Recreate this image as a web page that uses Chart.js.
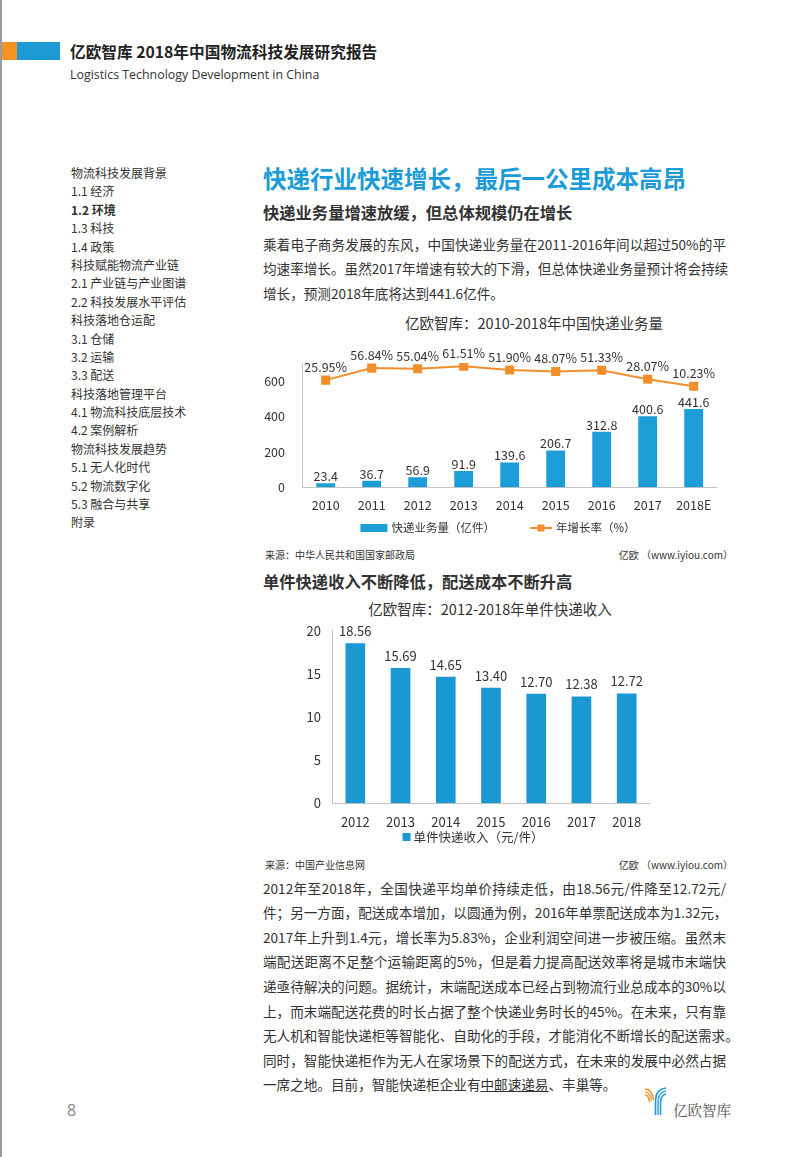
<!DOCTYPE html>
<html>
<head>
<meta charset="utf-8">
<script src="https://cdn.jsdelivr.net/npm/chart.js@4.4.0/dist/chart.umd.min.js"></script>
<style>
body{margin:0;width:802px;height:1157px;position:relative;background:#fff;overflow:hidden;
  font-family:"Noto Sans CJK SC","Noto Sans",sans-serif;color:#333}
.a{position:absolute;white-space:nowrap}
.nav div{height:18.4px;line-height:18.4px;font-size:12px}
.para div{height:24.6px;line-height:24.6px;font-size:13.6px;width:463px;text-align:justify;text-align-last:justify}
.para div.last{text-align-last:left}
.src{font-size:10px;line-height:14px;color:#333}
</style>
</head>
<body>
<div class="a" style="left:0;top:0;width:2px;height:1157px;background:#9a9a9a"></div>
<div class="a" style="left:2px;top:42px;width:15px;height:18px;background:#f39325"></div>
<div class="a" style="left:17px;top:42px;width:43px;height:18px;background:#1c9ad6"></div>
<div class="a" style="left:70px;top:41px;font-size:15.7px;line-height:22px;font-weight:bold;color:#222">亿欧智库 2018年中国物流科技发展研究报告</div>
<div class="a" style="left:70px;top:66px;font-size:12.4px;line-height:18px;color:#333;font-family:'Open Sans',sans-serif">Logistics Technology Development in China</div>

<div class="a nav" style="left:71px;top:164px">
<div>物流科技发展背景</div>
<div>1.1 经济</div>
<div style="font-weight:bold">1.2 环境</div>
<div>1.3 科技</div>
<div>1.4 政策</div>
<div>科技赋能物流产业链</div>
<div>2.1 产业链与产业图谱</div>
<div>2.2 科技发展水平评估</div>
<div>科技落地仓运配</div>
<div>3.1 仓储</div>
<div>3.2 运输</div>
<div>3.3 配送</div>
<div>科技落地管理平台</div>
<div>4.1 物流科技底层技术</div>
<div>4.2 案例解析</div>
<div>物流科技发展趋势</div>
<div>5.1 无人化时代</div>
<div>5.2 物流数字化</div>
<div>5.3 融合与共享</div>
<div>附录</div>
</div>

<div class="a" style="left:263px;top:162px;font-size:23.5px;line-height:32px;font-weight:bold;color:#1b9bd7">快递行业快速增长，最后一公里成本高昂</div>
<div class="a" style="left:263px;top:200px;font-size:16.3px;line-height:24px;font-weight:bold;color:#333">快递业务量增速放缓，但总体规模仍在增长</div>

<div class="a para" style="left:263px;top:231.7px">
<div>乘着电子商务发展的东风，中国快递业务量在2011-2016年间以超过50%的平</div>
<div>均速率增长。虽然2017年增速有较大的下滑，但总体快递业务量预计将会持续</div>
<div class="last">增长，预测2018年底将达到441.6亿件。</div>
</div>

<div class="a" style="left:534px;top:313px;transform:translateX(-50%);font-size:14.5px;line-height:20px;color:#333">亿欧智库：2010-2018年中国快递业务量</div>
<div class="a" style="left:262px;top:336px;width:470px;height:210px"><canvas id="volumeChart" width="470" height="210"></canvas></div>
<div class="a src" style="left:265px;top:548px">来源：中华人民共和国国家邮政局</div>
<div class="a src" style="right:69px;top:548px">亿欧 （www.iyiou.com）</div>

<div class="a" style="left:263px;top:569px;font-size:16.3px;line-height:24px;font-weight:bold;color:#333">单件快递收入不断降低，配送成本不断升高</div>
<div class="a" style="left:490px;top:599px;transform:translateX(-50%);font-size:14.5px;line-height:20px;color:#333">亿欧智库：2012-2018年单件快递收入</div>
<div class="a" style="left:290px;top:620px;width:380px;height:230px"><canvas id="incomeChart" width="380" height="230"></canvas></div>
<div class="a src" style="left:265px;top:858px">来源：中国产业信息网</div>
<div class="a src" style="right:69px;top:858px">亿欧 （www.iyiou.com）</div>

<div class="a para" style="left:263px;top:875.7px">
<div>2012年至2018年，全国快递平均单价持续走低，由18.56元/件降至12.72元/</div>
<div>件；另一方面，配送成本增加，以圆通为例，2016年单票配送成本为1.32元，</div>
<div>2017年上升到1.4元，增长率为5.83%，企业利润空间进一步被压缩。虽然末</div>
<div>端配送距离不足整个运输距离的5%，但是着力提高配送效率将是城市末端快</div>
<div>递亟待解决的问题。据统计，末端配送成本已经占到物流行业总成本的30%以</div>
<div>上，而末端配送花费的时长占据了整个快递业务时长的45%。在未来，只有靠</div>
<div>无人机和智能快递柜等智能化、自助化的手段，才能消化不断增长的配送需求。</div>
<div>同时，智能快递柜作为无人在家场景下的配送方式，在未来的发展中必然占据</div>
<div class="last">一席之地。目前，智能快递柜企业有<span style="text-decoration:underline">中邮速递易</span>、丰巢等。</div>
</div>

<div class="a" style="left:67px;top:1099px;font-size:16px;line-height:22px;color:#888;font-family:'Open Sans',sans-serif">8</div>
<svg class="a" style="left:642px;top:1085px" width="26" height="32" viewBox="0 0 26 32">
  <g fill="none" stroke-width="1.6">
    <path d="M3 4 Q10 4 11.5 15" stroke="#f39325"/>
    <path d="M3 7 Q8.5 7 9.5 16" stroke="#f6a84a"/>
    <path d="M3 10 Q7 10 7.5 17" stroke="#f39325"/>
    <path d="M24 3 Q14 4 13.5 15 L13.5 30" stroke="#1c9ad6"/>
    <path d="M24 6 Q16.5 7 16 16 L16 30" stroke="#3aaee2"/>
    <path d="M24 9 Q19 10 18.5 17 L18.5 30" stroke="#1c9ad6"/>
  </g>
</svg>
<div class="a" style="left:673px;top:1099px;font-size:14.5px;line-height:22px;color:#555;font-family:'Noto Serif CJK SC','Noto Sans CJK SC',serif">亿欧智库</div>

<script>
// 快递业务量（亿件）与年增长率
const volumeYears = ['2010', '2011', '2012', '2013', '2014', '2015', '2016', '2017', '2018E'];
const volumeValues = [23.4, 36.7, 56.9, 91.9, 139.6, 206.7, 312.8, 400.6, 441.6];
const growthRates = [25.95, 56.84, 55.04, 61.51, 51.90, 48.07, 51.33, 28.07, 10.23];

// 单件快递收入（元/件）
const incomeYears = ['2012', '2013', '2014', '2015', '2016', '2017', '2018'];
const incomeValues = [18.56, 15.69, 14.65, 13.40, 12.70, 12.38, 12.72];

const FONT = '"Noto Sans CJK SC", "Noto Sans", sans-serif';
const BLUE = '#1d9dd8';
const ORANGE = '#f28e2b';

// labels above bars / points
const valueLabels = {
    id: 'valueLabels',
    afterDatasetsDraw(chart) {
        const ctx = chart.ctx;
        chart.data.datasets.forEach((ds, i) => {
            const o = ds.valueLabel;
            if (!o) return;
            const meta = chart.getDatasetMeta(i);
            ctx.save();
            ctx.font = o.size + 'px ' + FONT;
            ctx.fillStyle = '#333';
            ctx.textAlign = 'center';
            ctx.textBaseline = 'middle';
            meta.data.forEach((el, j) => {
                ctx.fillText(o.format(ds.data[j]), el.x, el.y - o.offset);
            });
            ctx.restore();
        });
    }
};

// legend under the x axis: bar box, or line with square marker
const bottomLegend = {
    id: 'bottomLegend',
    afterDraw(chart, args, opts) {
        const ctx = chart.ctx;
        ctx.save();
        ctx.font = opts.size + 'px ' + FONT;
        ctx.textBaseline = 'middle';
        const items = chart.data.datasets.map(ds => {
            const markW = ds.type === 'line' ? opts.lineW : opts.boxW;
            return { ds, markW, w: markW + opts.gap + ctx.measureText(ds.label).width };
        });
        const total = items.reduce((s, it) => s + it.w, 0) + opts.itemGap * (items.length - 1);
        let x = opts.centerX - total / 2;
        const y = opts.y;
        items.forEach(it => {
            if (it.ds.type === 'line') {
                ctx.strokeStyle = it.ds.borderColor;
                ctx.lineWidth = 2;
                ctx.beginPath();
                ctx.moveTo(x, y);
                ctx.lineTo(x + it.markW, y);
                ctx.stroke();
                ctx.fillStyle = it.ds.borderColor;
                ctx.fillRect(x + it.markW / 2 - 3.5, y - 3.5, 7, 7);
            } else {
                ctx.fillStyle = it.ds.backgroundColor;
                ctx.fillRect(x, y - opts.boxH / 2, it.markW, opts.boxH);
            }
            ctx.fillStyle = '#333';
            ctx.fillText(it.ds.label, x + it.markW + opts.gap, y);
            x += it.w + opts.itemGap;
        });
        ctx.restore();
    }
};

Chart.defaults.font.family = FONT;
Chart.defaults.color = '#333';

// keep the plot area where the layout padding puts it
function fixY(width) {
    return s => { s.width = width; s.paddingTop = 0; s.paddingBottom = 0; };
}

new Chart(document.getElementById('volumeChart').getContext('2d'), {
    type: 'bar',
    data: {
        labels: volumeYears,
        datasets: [{
            label: '快递业务量（亿件）',
            data: volumeValues,
            yAxisID: 'y',
            backgroundColor: BLUE,
            barPercentage: 0.41,
            categoryPercentage: 1,
            order: 2,
            valueLabel: { size: 12.5, offset: 7, format: v => v.toFixed(1) }
        }, {
            type: 'line',
            label: '年增长率（%）',
            data: growthRates,
            yAxisID: 'y2',
            borderColor: ORANGE,
            backgroundColor: ORANGE,
            borderWidth: 2,
            pointStyle: 'rect',
            pointRadius: 5,
            pointBackgroundColor: ORANGE,
            pointBorderColor: ORANGE,
            tension: 0,
            order: 1,
            valueLabel: { size: 12.5, offset: 13, format: v => v.toFixed(2) + '%' }
        }]
    },
    options: {
        responsive: false,
        devicePixelRatio: 1,
        animation: false,
        layout: { padding: { left: 0, right: 15.3, top: 27, bottom: 28.7 } },
        plugins: {
            legend: { display: false },
            tooltip: { enabled: false },
            bottomLegend: { size: 11.5, boxW: 27, boxH: 8, lineW: 22, gap: 4, itemGap: 35, centerX: 236, y: 192 }
        },
        scales: {
            x: {
                grid: { display: false, drawTicks: false },
                border: { display: true, color: '#c4c4c4' },
                ticks: { padding: 10, font: { size: 12.5 }, color: '#333' },
                afterFit: s => { s.height = 30; }
            },
            y: {
                min: 0, max: 700,
                grid: { display: false, drawTicks: false },
                border: { display: true, color: '#c4c4c4' },
                ticks: { stepSize: 200, padding: 17.7, font: { size: 12.5 }, color: '#333',
                         callback: v => (v % 200 === 0 ? v : '') },
                afterFit: fixY(40.7)
            },
            y2: { display: false, min: -250, max: 70 }
        }
    },
    plugins: [valueLabels, bottomLegend]
});

new Chart(document.getElementById('incomeChart').getContext('2d'), {
    type: 'bar',
    data: {
        labels: incomeYears,
        datasets: [{
            label: '单件快递收入（元/件）',
            data: incomeValues,
            backgroundColor: '#1a98d2',
            barPercentage: 0.435,
            categoryPercentage: 1,
            valueLabel: { size: 13, offset: 12, format: v => v.toFixed(2) }
        }]
    },
    options: {
        responsive: false,
        devicePixelRatio: 1,
        animation: false,
        layout: { padding: { left: 0, right: 20.7, top: 10.7, bottom: 16.7 } },
        plugins: {
            legend: { display: false },
            tooltip: { enabled: false },
            bottomLegend: { size: 12.5, boxW: 8, boxH: 8, lineW: 22, gap: 3, itemGap: 20, centerX: 183, y: 217 }
        },
        scales: {
            x: {
                grid: { display: false, drawTicks: false },
                border: { display: true, color: '#c4c4c4' },
                ticks: { padding: 10.5, font: { size: 13 }, color: '#333' },
                afterFit: s => { s.height = 30; }
            },
            y: {
                min: 0, max: 20,
                grid: { display: false, drawTicks: false },
                border: { display: true, color: '#c4c4c4' },
                ticks: { stepSize: 5, padding: 11.7, font: { size: 13 }, color: '#333' },
                afterFit: fixY(42.7)
            }
        }
    },
    plugins: [valueLabels, bottomLegend]
});
</script>
</body>
</html>
